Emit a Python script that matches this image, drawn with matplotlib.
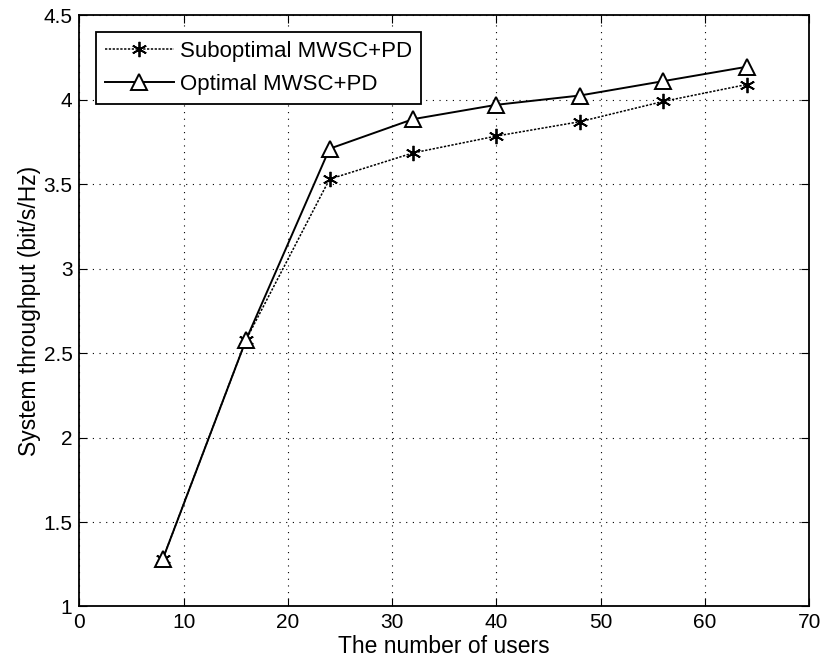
import matplotlib
matplotlib.use('Agg')
import matplotlib.pyplot as plt

plt.rcParams['font.family'] = ['Liberation Sans', 'DejaVu Sans']
plt.rcParams['font.size'] = 15

users = [8, 16, 24, 32, 40, 48, 56, 64]
subopt = [1.28, 2.58, 3.53, 3.685, 3.785, 3.87, 3.99, 4.09]
opt = [1.28, 2.58, 3.71, 3.885, 3.97, 4.025, 4.11, 4.195]

fig = plt.figure(figsize=(8.35, 6.65), dpi=100)
ax = fig.add_axes([0.095, 0.088, 0.874, 0.889])

ax.plot(users, subopt, color='black', linestyle=(0, (1.5, 1)), linewidth=1.1,
        marker=(6, 2, 0), markersize=11, markeredgewidth=1.3, label='Suboptimal MWSC+PD')
ax.plot(users, opt, color='black', linestyle='-', linewidth=1.4,
        marker='^', markersize=12, markerfacecolor='white', markeredgewidth=1.4,
        label='Optimal MWSC+PD')

ax.set_xlim(0, 70)
ax.set_ylim(1, 4.5)
ax.set_xticks(range(0, 71, 10))
ax.set_yticks([1, 1.5, 2, 2.5, 3, 3.5, 4, 4.5])
ax.set_yticklabels(['1', '1.5', '2', '2.5', '3', '3.5', '4', '4.5'])
ax.grid(True, color='black', linestyle=(0, (1, 5)), linewidth=0.8)
ax.tick_params(direction='in', top=True, right=True, length=6, pad=5)
for s in ax.spines.values():
    s.set_linewidth(1.3)

ax.set_xlabel('The number of users', fontsize=16.5, labelpad=2)
ax.set_ylabel('System throughput (bit/s/Hz)', fontsize=16.5, labelpad=2)

leg = ax.legend(loc='upper left', fancybox=False, framealpha=1, edgecolor='black',
                fontsize=16, handlelength=3.1, handletextpad=0.3, borderpad=0.4,
                labelspacing=0.55, borderaxespad=0.75)
leg.get_frame().set_linewidth(1.3)

fig.savefig('out.png', dpi=100)
